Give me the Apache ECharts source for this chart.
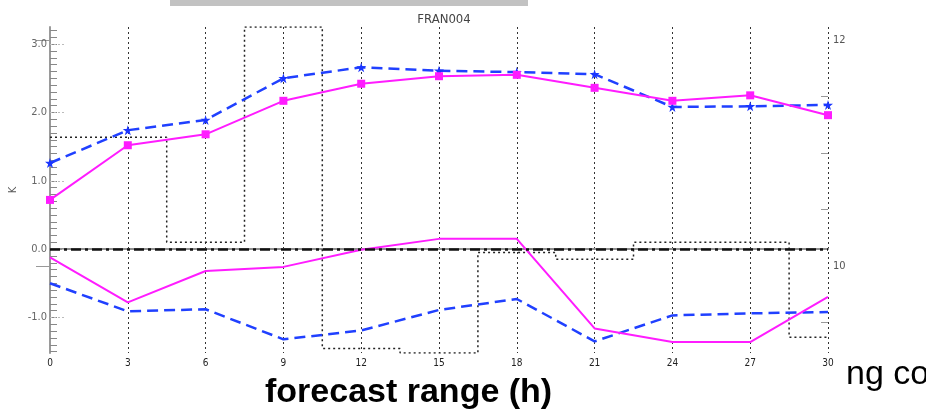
<!DOCTYPE html>
<html>
<head>
<meta charset="utf-8">
<script src="https://cdn.jsdelivr.net/npm/echarts@6/dist/echarts.min.js"></script>
<style>
html,body{margin:0;padding:0;background:#fff;}
#chart{width:926px;height:412px;}
</style>
</head>
<body>
<div id="chart"></div>
<script>
// ---- data ----
var hours = [0, 3, 6, 9, 12, 15, 18, 21, 24, 27, 30];
var magentaUpper = [0.72, 1.52, 1.68, 2.17, 2.42, 2.53, 2.55, 2.36, 2.17, 2.25, 1.96];
var blueUpper    = [1.26, 1.74, 1.89, 2.50, 2.66, 2.61, 2.59, 2.56, 2.08, 2.09, 2.11];
var magentaLower = [-0.12, -0.78, -0.32, -0.26, -0.01, 0.15, 0.15, -1.16, -1.36, -1.36, -0.70];
var blueLower    = [-0.50, -0.91, -0.88, -1.32, -1.19, -0.89, -0.73, -1.35, -0.97, -0.94, -0.92];
var stepValues   = [11.14, 11.14, 10.21, 12.115, 9.27, 9.23, 10.12, 10.06, 10.21, 10.21, 9.37];
var leftLabels   = [-1, 0, 1, 2, 3];
var rightLabels  = [10, 12];
var rightMinor   = [9.5, 10.5, 11, 11.5];
var title = 'FRAN004';
var xTitle = 'forecast range (h)';
var yName = 'K';
var cutText = 'ng co';

function pairs(xs, ys){ return xs.map(function(x,i){ return [x, ys[i]]; }); }
var leftMinor = [];
for (var k = -15; k <= 32; k++) leftMinor.push(Math.round(k) / 10);

var narrow = '"Liberation Sans Narrow","DejaVu Sans Condensed",sans-serif';
var star = 'path://M50,0 L61,35 L98,35 L68,57 L79,91 L50,70 L21,91 L32,57 L2,35 L39,35 Z';

var chart = echarts.init(document.getElementById('chart'));
var grid = {left: 50, right: 98, top: 27, bottom: 59, containLabel: false, outerBoundsMode: 'none'};

chart.setOption({
  animation: false,
  backgroundColor: '#fff',
  title: {
    text: title, left: 439, top: 8, textAlign: 'center',
    textStyle: {fontSize: 13, fontWeight: 'normal', color: '#444', fontFamily: narrow}
  },
  graphic: [
    {type: 'rect', shape: {x: 170, y: 0, width: 358, height: 6}, style: {fill: '#c2c2c2'}, silent: true},
    {type: 'text', left: 265, top: 376, style: {text: xTitle, font: 'bold 34px "Liberation Sans", Arial, sans-serif', fill: '#000'}},
    {type: 'text', left: 846, top: 358, style: {text: cutText, font: '34px "Liberation Sans", Arial, sans-serif', fill: '#000'}}
  ],
  grid: grid,
  xAxis: [
    {
      type: 'value', min: 0, max: 30, interval: 3,
      axisLine: {show: true, lineStyle: {color: '#9a9a9a', width: 2}},
      axisTick: {show: false},
      axisLabel: {fontSize: 10, color: '#222', margin: 5, fontFamily: narrow},
      splitLine: {show: true, showMinLine: false, showMaxLine: true, lineStyle: {color: '#333', width: 1, type: [2, 3]}}
    },
    {
      type: 'value', position: 'top', min: 0, max: 30, interval: 3,
      axisLine: {show: true, lineStyle: {color: '#8a8a8a', width: 1.5}},
      axisTick: {show: false}, axisLabel: {show: false}, splitLine: {show: false}
    }
  ],
  yAxis: [
    {
      type: 'value', min: -1.52, max: 3.25, position: 'left',
      name: yName, nameLocation: 'middle', nameGap: 31, nameRotate: 90,
      nameTextStyle: {fontSize: 11, color: '#555', fontFamily: narrow},
      axisLine: {show: true, onZero: false, lineStyle: {color: '#9a9a9a', width: 2}},
      axisTick: {show: true, inside: true, length: 7, customValues: leftMinor, lineStyle: {color: '#888', width: 1}},
      axisLabel: {show: false},
      splitLine: {show: false}
    },
    {
      type: 'value', min: -1.52, max: 3.25, position: 'left',
      axisLine: {show: false},
      axisTick: {show: true, inside: true, length: 15, customValues: leftLabels, lineStyle: {color: '#bbb', width: 1, type: [2, 2]}},
      axisLabel: {show: true, customValues: leftLabels, fontSize: 11, color: '#666', margin: 3, fontFamily: narrow,
        formatter: function(v){ return v.toFixed(1); }},
      splitLine: {show: false}
    },
    {
      type: 'value', min: 9.23, max: 12.115, position: 'right',
      axisLine: {show: false},
      axisTick: {show: true, inside: true, length: 14, customValues: rightLabels, lineStyle: {color: '#999', width: 1}},
      axisLabel: {show: true, customValues: rightLabels, fontSize: 11, color: '#555', margin: 5, fontFamily: narrow},
      splitLine: {show: false}
    },
    {
      type: 'value', min: 9.23, max: 12.115, position: 'right',
      axisLine: {show: false},
      axisTick: {show: true, inside: true, length: 7, customValues: rightMinor, lineStyle: {color: '#999', width: 1}},
      axisLabel: {show: false},
      splitLine: {show: false}
    }
  ],
  series: [
    {
      name: 'steps', type: 'line', yAxisIndex: 2, step: 'middle',
      data: pairs(hours, stepValues), showSymbol: false, symbol: 'none',
      lineStyle: {color: '#222', width: 1.5, type: [2, 3]}, z: 2
    },
    {
      name: 'zero', type: 'line', yAxisIndex: 0, data: [], symbol: 'none',
      markLine: {
        silent: true, symbol: 'none', label: {show: false},
        lineStyle: {color: '#111', width: 2.5, type: [10, 4, 3, 4]},
        data: [{yAxis: 0}]
      }
    },
    {
      name: 'blueLower', type: 'line', yAxisIndex: 0, data: pairs(hours, blueLower),
      symbol: 'none', lineStyle: {color: '#2040ff', width: 2.5, type: [11, 6]}, z: 3
    },
    {
      name: 'magentaLower', type: 'line', yAxisIndex: 0, data: pairs(hours, magentaLower),
      symbol: 'none', lineStyle: {color: '#ff1cff', width: 2}, z: 4
    },
    {
      name: 'blueUpper', type: 'line', yAxisIndex: 0, data: pairs(hours, blueUpper),
      symbol: star, symbolSize: 10, itemStyle: {color: '#1a35ff'},
      lineStyle: {color: '#2040ff', width: 2.5, type: [11, 6]}, z: 3
    },
    {
      name: 'magentaUpper', type: 'line', yAxisIndex: 0, data: pairs(hours, magentaUpper),
      symbol: 'rect', symbolSize: 8, itemStyle: {color: '#ff1cff'},
      lineStyle: {color: '#ff1cff', width: 2}, z: 4
    }
  ]
});
</script>
</body>
</html>
